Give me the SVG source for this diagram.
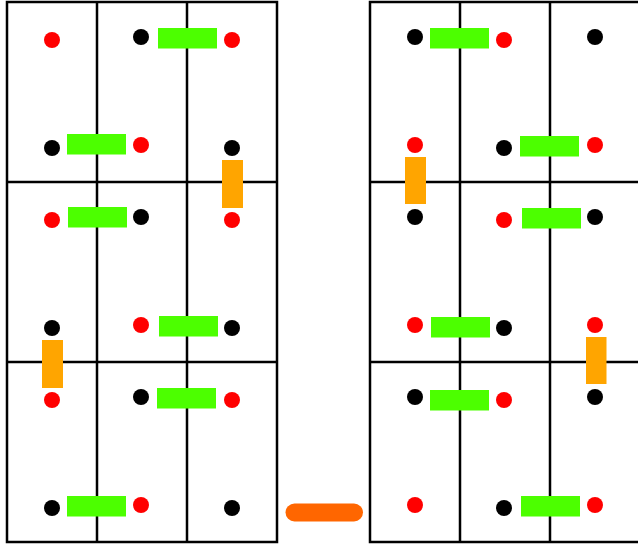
<svg xmlns="http://www.w3.org/2000/svg" width="638" height="545" viewBox="0 0 638 545">
<style>
.grid{fill:none;stroke:#000;stroke-width:2.5}
.r{fill:#ff0000;filter:url(#b)}
.k{fill:#000;filter:url(#b)}
.g{fill:#4cff00}
.o{fill:#ffa500}
.p{fill:#ff6600}
</style>
<defs>
<filter id="b" x="-30%" y="-30%" width="160%" height="160%"><feGaussianBlur stdDeviation="0.6"/></filter>
</defs>
<g id="left-grid">
<rect class="grid" x="7" y="2" width="270" height="540"/>
<line class="grid" x1="97" y1="2" x2="97" y2="542"/>
<line class="grid" x1="187" y1="2" x2="187" y2="542"/>
<line class="grid" x1="7" y1="182" x2="277" y2="182"/>
<line class="grid" x1="7" y1="362" x2="277" y2="362"/>
</g>
<g id="right-grid">
<rect class="grid" x="370" y="2" width="270" height="540"/>
<line class="grid" x1="460" y1="2" x2="460" y2="542"/>
<line class="grid" x1="550" y1="2" x2="550" y2="542"/>
<line class="grid" x1="370" y1="182" x2="640" y2="182"/>
<line class="grid" x1="370" y1="362" x2="640" y2="362"/>
</g>
<g id="left-items">
<circle class="r" cx="52" cy="40" r="8"/>
<circle class="k" cx="141" cy="37" r="8"/>
<rect class="g" x="158" y="28" width="59" height="20.5"/>
<circle class="r" cx="232" cy="40" r="8"/>
<circle class="k" cx="52" cy="148" r="8"/>
<rect class="g" x="67" y="134" width="59" height="20.5"/>
<circle class="r" cx="141" cy="145" r="8"/>
<circle class="k" cx="232" cy="148" r="8"/>
<rect class="o" x="222" y="160" width="21" height="48"/>
<circle class="r" cx="52" cy="220" r="8"/>
<rect class="g" x="68" y="207" width="59" height="20.5"/>
<circle class="k" cx="141" cy="217" r="8"/>
<circle class="r" cx="232" cy="220" r="8"/>
<circle class="k" cx="52" cy="328" r="8"/>
<circle class="r" cx="141" cy="325" r="8"/>
<rect class="g" x="159" y="316" width="59" height="20.5"/>
<circle class="k" cx="232" cy="328" r="8"/>
<rect class="o" x="42" y="340" width="21" height="48"/>
<circle class="r" cx="52" cy="400" r="8"/>
<circle class="k" cx="141" cy="397" r="8"/>
<rect class="g" x="157" y="388" width="59" height="20.5"/>
<circle class="r" cx="232" cy="400" r="8"/>
<circle class="k" cx="52" cy="508" r="8"/>
<rect class="g" x="67" y="496" width="59" height="20.5"/>
<circle class="r" cx="141" cy="505" r="8"/>
<circle class="k" cx="232" cy="508" r="8"/>
</g>
<g id="right-items">
<circle class="k" cx="415" cy="37" r="8"/>
<rect class="g" x="430" y="28" width="59" height="20.5"/>
<circle class="r" cx="504" cy="40" r="8"/>
<circle class="k" cx="595" cy="37" r="8"/>
<circle class="r" cx="415" cy="145" r="8"/>
<rect class="o" x="405" y="157" width="21" height="47"/>
<circle class="k" cx="504" cy="148" r="8"/>
<rect class="g" x="520" y="136" width="59" height="20.5"/>
<circle class="r" cx="595" cy="145" r="8"/>
<circle class="k" cx="415" cy="217" r="8"/>
<circle class="r" cx="504" cy="220" r="8"/>
<rect class="g" x="522" y="208" width="59" height="20.5"/>
<circle class="k" cx="595" cy="217" r="8"/>
<circle class="r" cx="415" cy="325" r="8"/>
<rect class="g" x="431" y="317" width="59" height="20.5"/>
<circle class="k" cx="504" cy="328" r="8"/>
<circle class="r" cx="595" cy="325" r="8"/>
<rect class="o" x="586" y="337" width="20.5" height="47"/>
<circle class="k" cx="415" cy="397" r="8"/>
<rect class="g" x="430" y="390" width="59" height="20.5"/>
<circle class="r" cx="504" cy="400" r="8"/>
<circle class="k" cx="595" cy="397" r="8"/>
<circle class="r" cx="415" cy="505" r="8"/>
<circle class="k" cx="504" cy="508" r="8"/>
<rect class="g" x="521" y="496" width="59" height="20.5"/>
<circle class="r" cx="595" cy="505" r="8"/>
</g>
<g id="pill">
<rect class="p" x="285.5" y="503.5" width="77.5" height="18" rx="9"/>
</g>
</svg>
